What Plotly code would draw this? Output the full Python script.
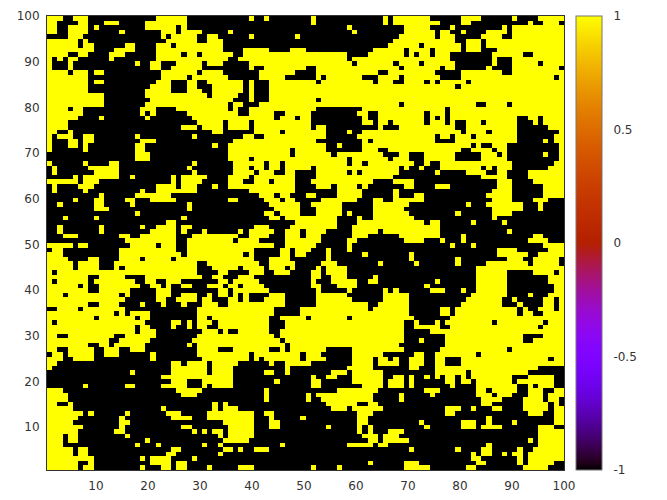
import math
import plotly.graph_objects as go

# Yellow (+1) column ranges per row, top row (y=100) first; all other cells are -1.
yellow_left = [
"1-3,6-8,22-27,40,43","1-2,7-8,12-14,20-27","1-2,5-8,10,20-25,27","1-2,5-8,15,23-25,27-30,36",
"5-7,23,25-29,32-33,40","1-6,8,24-29,32-34","1-6,8-9,16-17,22-24,26-34","1-9,14-17,22-34,39-43,48-50",
"1-4,7-8,13-15,22-26,28-29,31-36,39-50","1,3,5-6,13,22-35,38-50","1,5,18,21-22,26-30,32-34,40-50","1,5,21-22,25-30,40,43-50",
"1-4,6-8,10-11,23-29,31-34,42-50","1-8,23-27,29-35,42-46","1-8,10-11,22-24,28-29,32-38,40,44-50","1-8,21-24,28-29,33-38,40,44-50",
"1-8,20-24,28-30,33-38,40,44-50","1-11,20-31,33-37,40,44-50","1-11,21-36,40,44-50","1-11,20-35,37-38,42-50",
"1-4,6-7,19-21,26-35,37,40-50","1-7,19,21,28-37,40-44,47-50","1-6,11,20,29-44,46-48,50","1-4,30-34,36-39,41-50",
"1-4,27-29,31-34,36-39,41-50","1-2,5,33-34,41-45,47-50","1,3-5,8-9,18,29,39-40,43-50","1,5-6,8-9,19-21,37-50",
"1,5-6,8,18-19,33,36-50","1,8,18-19,36-47,49-50","18-20,36-47,49-50","18-20,36-39,41-50",
"1,8,13-14,29,37-42,44-45,47-50","2,9-14,28,37-39,41-42,44-45,47-50","2,10-14,29,37-40,42-44,47-50","6,8-14,17,25,27-31,36-39,41-50",
"1-6,8-10,25,27-30,36-38,41-43,45-50","2,7-9,22-25,27-29,33,36-48","2,8,19,22-29,40-49","11,18-24,42-44,46-47,49",
"6,10-11,16-17,21-25,36-37,43-45,47-50","3,10-11,17,28,44-50","10-12,28,45-50","18,43-44,46-49",
"4,10,27,44-45,47-49","24-25,49-50","3,11,19,22-25,27-28,41-43,48-50","3,11,21-25,27,31,38,40-44,47-49",
"4-6,15-16,19-25,29-37,40-43,47-49","16-25,28-36,38-41,47-50","1-5,7-8,17-21,23-25,28-44,47-50","2-3,15-25,28-40,46-47,49-50",
"1-3,15-26,28-38,40,46-47,49-50","1-4,9-10,15-18,20-24,26-40,44-47,49-50","1-5,7-10,14-29,32-41,44-50","1-5,7-10,14,16-29,33-37,39-42,44-46,48-50",
"1,3-29,34-35,40-42,45-47,49-50","1-8,11-15,20-30,33-34,38-40","1,3-8,10-17,20-21,24-26,34-35,37-38,39-41","1-6,8,11-18,21-22,24,27-28,32-34,36-37,39-42",
"1-8,11-16,22-24,34-35,37-38,39-43","1-3,5-14,16,22-24,27-29,32,34-35,37,39,44-46","1-15,22-23,26-29,31-32,36-37,39,43-46","1-8,11-14,19,23,27,31-33,36-38,39-46",
"3-6,8-15,30-44,50","1-13,15,17-20,30-44,49-50","1-9,11-17,19-20,30-31,33-43,46-50","1,3-19,25-26,28,30-32,34-43,47-50",
"1-17,19-20,25,28,30-31,34-43,47-50","1-17,19-21,31-33,35,38-43,46-50","1-2,5-13,16-21,30-44,46-50","1-12,15-20,29-45,47-50",
"1-8,11-12,14-19,28,30-46,48-50","1-2,5-9,12-14,17-19,30-33,37-43,46,48-50","2-3,5-9,12-14,21,30-39,41-48,50","1-3,6-9,21,31-39,41,43-47,48-49",
"1-2,25-26,28-31,33-37,44,47-50","1,25-31,33-36,47","17,25-31,33-36,43-44,47","23-36",
"25-27,31-36,45","8,16-17,23-27,31,33-36","1-3,26-30,43","1-4,27-29,43,50",
"1-4,43,50","1-2,5,33,35","1-5,23,33,35-37","1-7,9,16,24-26,32-40,43-44",
"1-6,15,25-28,32-40,44,49","1-5,15-16,35-40,44-45,49","1-7,15,27-28,36-40,44-45","1-6,14-15,29,31,33-34,36-40",
"1-3,5-6,16,34,36-40","1-3,5-6,20,35-39","1-3,18,22,31,34,46","1-5,7-8,25-26,35-36,38,41-43",
"1-5,7-8,24-25,34","1-8,9,19,21-24,29","1-6,9,21-24,26-27","1-6,8-9,19,23-24,26-27,32,38-40",
]
yellow_right = [
"52,66,68-74,81-84,91,96-100","52,66,68-76,81-82,94,97-99","59,70-74,79,89,91-100","60,70-75,77-78,81,86-89,91-100",
"49,69-75,77-79,85-88,91-100","68-79,82-84,86-100","67-72,74-80,82-84,86-100","49-50,64-69,71-74,76-80,82-84,88-100",
"49-58,63-69,71,73-74,76-78,87-92,95-100","49-58,60-78,87,91-100","49-59,61-67,69-72,74-79,87,91-95,97-100","49-50,53-68,70-76,78-79,86,91-99",
"53-64,67-75,81-88,91-100","53,55-61,65-68,70-76,81-98,100","49-52,54-63,65-67,70-73,75,77-81,83-100","49-79,81-100",
"49-100","49-100","49-52,54-100","49-68,70-83,86-89,91-100",
"49-52,62-77,79-100","49-51,61-62,65-73,75-77,79-100","50-51,62,65-73,75,77,79-91,94-95,97-100","49-51,62-63,65-66,68-73,75-77,79,82-84,86-91,95,97-100",
"49-51,53-54,65,69-79,82-91,98-100","49-54,59,62-80,82-85,87-91,100","49-54,61-75,77-78,80-82,84-91,99-100","49-52,62,64-75,80-91,97,99-100",
"49-54,57,62-82,84,87-89,100","49-54,62-64,67-80,83-86,88-89,100","49-55,57-65,69-70,74-79,85-87,89,97,100","49-58,60-66,68-70,74-79,85-89,100",
"49-58,60-61,63-71,74,77-90,99-100","49-51,53-68,70,73,77-84,86,88-90,98-100","53-58,60,62-68,76,82-85,88-89,94-100","53-67,85-89,94-100",
"52-63,68-71,88-90,95-100","53-55,57-60,62,70-71,76-78,88-90,97-100","57-61,68,87-90,97-100","51-52,57-61,68,72-73,86-90,97-100",
"54-60,64-65,68-73,87-90,95-97","49,52-57,64-70,82,86-92,96","49,53-57,64-69,87-92,96","49,53-57,59,64-70,80,87-90",
"49-56,61,64-71,87","49-56,61-73,75-76,83,89","49-56,60-76","49,51-54,60-64,66-76,90",
"49,51-53,60-62,69-76,81,95-96","49-53,59-60,70-73,77,81,94-97","49-52,59,79,83,97-100","49-51,55,59,88-91,98-100",
"49-50,55,62,71,88-93,96-100","55,71,80,90-92,95-99","54-56,65,72,80,86-93,95-99","53,55-58,84-100",
"52-53,55-58,84-89,95-98,100","52-53,56-58,64,84-89,98-100","52,56-60,63-64,76,84-89,98-100","52-53,57-60,74,84-89,99-100",
"53,59,66,68,75-77,81,84-89,99-100","53-58,66-70,83-89,94,98-100","53-59,66-70,82-88,91,97-98,100","53-62,65-70,81-88,92,97-98,100",
"50-62,64-70,77-78,80-91,93,96-98,100","50-70,77-78,80-91,93-94,97-100","49-50,52-58,60-71,79-100","49-69,72,76,78-86,88-96,98-100",
"49-69,72-76,79-95,97-100","49-69,75-100","49-69,78-92,97-100","49-69,73,78-92,95-100",
"49-68,78-100","49-54,60-69,77-89,91-100","49,51-53,60-65,72-73,76-83,85-100","49,51-54,60-63,65-66,68,71-73,76-77,81-97,99-100",
"49-51,60-63,65-68,71-73,76-77,81-100","59-63,71-72,76-95","56-58,60-65,76-81,83-93","52,55-56,60-65,68-69,71,74,76,78-79,81,83-90,94-98",
"52-53,60-65,67-69,71,78-79,81-82,84-90,92-98","52-53,62-65,67-69,71,79,84-91,94,96-98","57-64,74-76,84-85,87-91,94-96,99-100","51,53-63,69,75,84-86,88-90,94-96,98-100",
"51,54-63,69,85-88,93-96,98-99","55-60,63-64,85-86,93-97,99","56-58,60-65,78-80,83,87-88,93-97,99-100","61-63,78-79,94-96,99-100",
"50,61-62,86,99-100","61-62,73,81-83,86,91,99-100","55,61,63,74,81-83,85-88,96-98","61,63,67-69,96-100",
"62-64,66-68,96-100","63-64,66-70,94,96-100","59-63,65-66,86,96-100","71,80,85-86,92,95-100",
"83,85-86,89,91-92,94-100","83-84,92,94-100","63,70-72,84-85,92,94-98","52,57,70-74,82-83,93-97",
]
x_ticks = [10, 20, 30, 40, 50, 60, 70, 80, 90, 100]
y_ticks = [10, 20, 30, 40, 50, 60, 70, 80, 90, 100]
cb_ticks = [-1, -0.5, 0, 0.5, 1]
cb_labels = ["-1", "-0.5", "0", "0.5", "1"]

def cols(spec, lo, hi):
    out = set()
    for part in spec.split(","):
        a, _, b = part.partition("-")
        out.update(c for c in range(int(a), int(b or a) + 1) if lo <= c <= hi)
    return out

z = []
for left, right in zip(yellow_left, yellow_right):
    on = cols(left, 1, 48) | cols(right, 49, 100)
    z.append([1 if c in on else -1 for c in range(1, 101)])
z.reverse()

lo_axis, hi_axis = 0.6, 100
step = (hi_axis - lo_axis) / 100
centers = [lo_axis + step * (i + 0.5) for i in range(100)]

def pm3d(t):
    r = math.sqrt(t); g = t ** 3; b = max(0, math.sin(2 * math.pi * t))
    return f"rgb({round(255*r)},{round(255*g)},{round(255*b)})"
scale = [[i / 64, pm3d(i / 64)] for i in range(65)]

font = dict(family="DejaVu Sans", size=12, color="#333")
clear = "rgba(0,0,0,0)"
fig = go.Figure(go.Heatmap(
    x=centers, y=centers, z=z, zmin=-1, zmax=1, colorscale=scale,
    colorbar=dict(x=1.0232, xanchor="left", xref="paper", y=0, yanchor="bottom", yref="paper",
                  len=1, lenmode="fraction", thickness=26, thicknessmode="pixels",
                  outlinecolor="#777", outlinewidth=1, tickmode="array", tickvals=cb_ticks,
                  ticktext=cb_labels, ticks="outside", ticklen=9, tickcolor=clear,
                  tickfont=font, xpad=0, ypad=0),
))
for v in [0.25, 0.5, 0.75]:
    fig.add_shape(type="line", xref="paper", yref="paper", x0=1.0232, x1=1.0735, y0=v, y1=v,
                  line=dict(color="rgba(0,0,0,0.65)", width=1, dash="8px,10px"))
axis = dict(range=[lo_axis, hi_axis], tickmode="array", showgrid=False, zeroline=False, mirror=True,
            showline=True, linecolor="#333", linewidth=1, ticks="outside", tickcolor=clear,
            tickfont=font, automargin=False)
fig.update_xaxes(tickvals=x_ticks, ticklen=5, **axis)
fig.update_yaxes(tickvals=y_ticks, ticklen=4, **axis)
fig.update_layout(width=651, height=484, margin=dict(l=39, r=95, t=8, b=22, autoexpand=False),
                  paper_bgcolor="white", plot_bgcolor="white", font=font)
fig.write_html("out.html")
